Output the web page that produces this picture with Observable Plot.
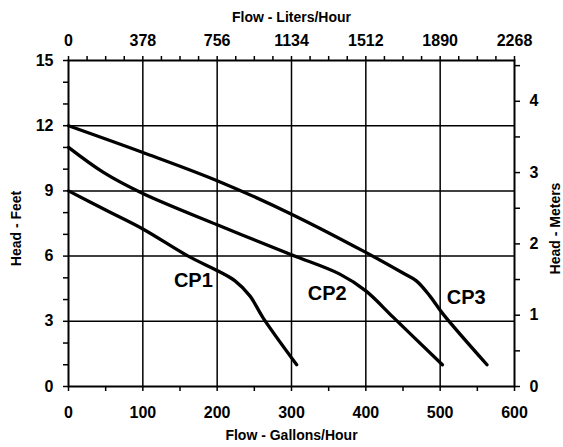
<!DOCTYPE html>
<html><head><meta charset="utf-8">
<script src="https://cdn.jsdelivr.net/npm/d3@7"></script>
<script src="https://cdn.jsdelivr.net/npm/@observablehq/plot@0.6"></script>
<style>body{margin:0;background:#fff}</style>
</head><body><div id="chart"></div>
<script>
// Pump curves: flow (gallons/hour) vs head (feet)
const cp1Flow = [0, 50, 100, 161, 202, 224, 244, 262, 307];
const cp1Head = [9, 8.12, 7.25, 6.0, 5.3, 4.86, 4.17, 3.15, 1.0];
const cp2Flow = [0, 47, 100, 200, 300, 365, 400, 437, 503];
const cp2Head = [11, 9.85, 8.88, 7.44, 6.06, 5.17, 4.4, 3.18, 1.0];
const cp3Flow = [0, 100, 200, 300, 400, 450, 468, 486, 504, 563];
const cp3Head = [12, 10.77, 9.47, 7.93, 6.17, 5.22, 4.86, 4.17, 3.33, 1.0];

const curveLabels = ["CP1", "CP2", "CP3"];
const labelFlow = [168, 348, 535];
const labelHead = [4.86, 4.29, 4.1];

const gallonTicks = [0, 100, 200, 300, 400, 500, 600];
const feetTicks = [0, 3, 6, 9, 12, 15];
const meterTicks = [0, 0.5, 1, 1.5, 2, 2.5, 3, 3.5, 4, 4.5];
const FT_PER_M = 3.28084;
const L_PER_GAL = 3.78;

const rows = [
  ...cp1Flow.map((f, i) => ({series: "CP1", flow: f, head: cp1Head[i]})),
  ...cp2Flow.map((f, i) => ({series: "CP2", flow: f, head: cp2Head[i]})),
  ...cp3Flow.map((f, i) => ({series: "CP3", flow: f, head: cp3Head[i]}))
];

const gridStyle = {stroke: "black", strokeOpacity: 1, strokeWidth: 1.5};
const titleStyle = {fontSize: 14, fontWeight: "bold", textAnchor: "middle", lineAnchor: "middle"};

const chart = Plot.plot({
  width: 563, height: 447,
  marginLeft: 68, marginRight: 49, marginTop: 60, marginBottom: 61,
  x: {domain: [0, 600]},
  y: {domain: [0, 15]},
  style: {fontFamily: "'Liberation Sans', Arial, sans-serif", fontWeight: "bold", fontSize: "16px", color: "black", background: "white"},
  marks: [
    Plot.gridX(gallonTicks.slice(1, -1), gridStyle),
    Plot.gridY(feetTicks.slice(1, -1), gridStyle),
    Plot.axisX({anchor: "bottom", ticks: gallonTicks, tickSize: 5, tickPadding: 15, label: null, strokeWidth: 1.5}),
    Plot.axisX({anchor: "bottom", ticks: d3.range(50, 600, 100), tickSize: 5, tickFormat: () => "", label: null, strokeWidth: 1.5}),
    Plot.axisX({anchor: "top", ticks: gallonTicks, tickSize: 5, tickPadding: 10, tickFormat: d => String(Math.round(d * L_PER_GAL)), label: null, strokeWidth: 1.5}),
    Plot.axisX({anchor: "top", ticks: d3.range(25, 600, 25).filter(d => d % 100 !== 0), tickSize: 5, tickFormat: () => "", label: null, strokeWidth: 1.5}),
    Plot.axisY({anchor: "left", ticks: feetTicks, tickSize: 5, tickPadding: 10, label: null, strokeWidth: 1.5}),
    Plot.axisY({anchor: "left", ticks: d3.range(0, 16).filter(d => d % 3 !== 0), tickSize: 5, tickFormat: () => "", label: null, strokeWidth: 1.5}),
    Plot.axisY({anchor: "right", ticks: meterTicks.map(m => m * FT_PER_M), tickSize: 5, tickPadding: 10,
      tickFormat: d => { const m = d / FT_PER_M; return Math.abs(m - Math.round(m)) < 1e-9 ? String(Math.round(m)) : ""; },
      label: null, strokeWidth: 1.5}),
    Plot.frame({stroke: "black", strokeWidth: 2}),
    Plot.line(rows, {x: "flow", y: "head", z: "series", curve: "catmull-rom", stroke: "black", strokeWidth: 3.3}),
    Plot.text(curveLabels, {x: (d, i) => labelFlow[i], y: (d, i) => labelHead[i], text: d => d, fontSize: 20, fontWeight: "bold"}),
    Plot.text(["Flow - Liters/Hour"], {frameAnchor: "top", dy: -43, ...titleStyle}),
    Plot.text(["Flow - Gallons/Hour"], {frameAnchor: "bottom", dy: 49, ...titleStyle}),
    Plot.text(["Head - Feet"], {frameAnchor: "left", dx: -52, dy: 5, rotate: -90, ...titleStyle}),
    Plot.text(["Head - Meters"], {frameAnchor: "right", dx: 41, dy: 5, rotate: -90, ...titleStyle})
  ]
});
document.getElementById("chart").appendChild(chart);
</script>
</body></html>
